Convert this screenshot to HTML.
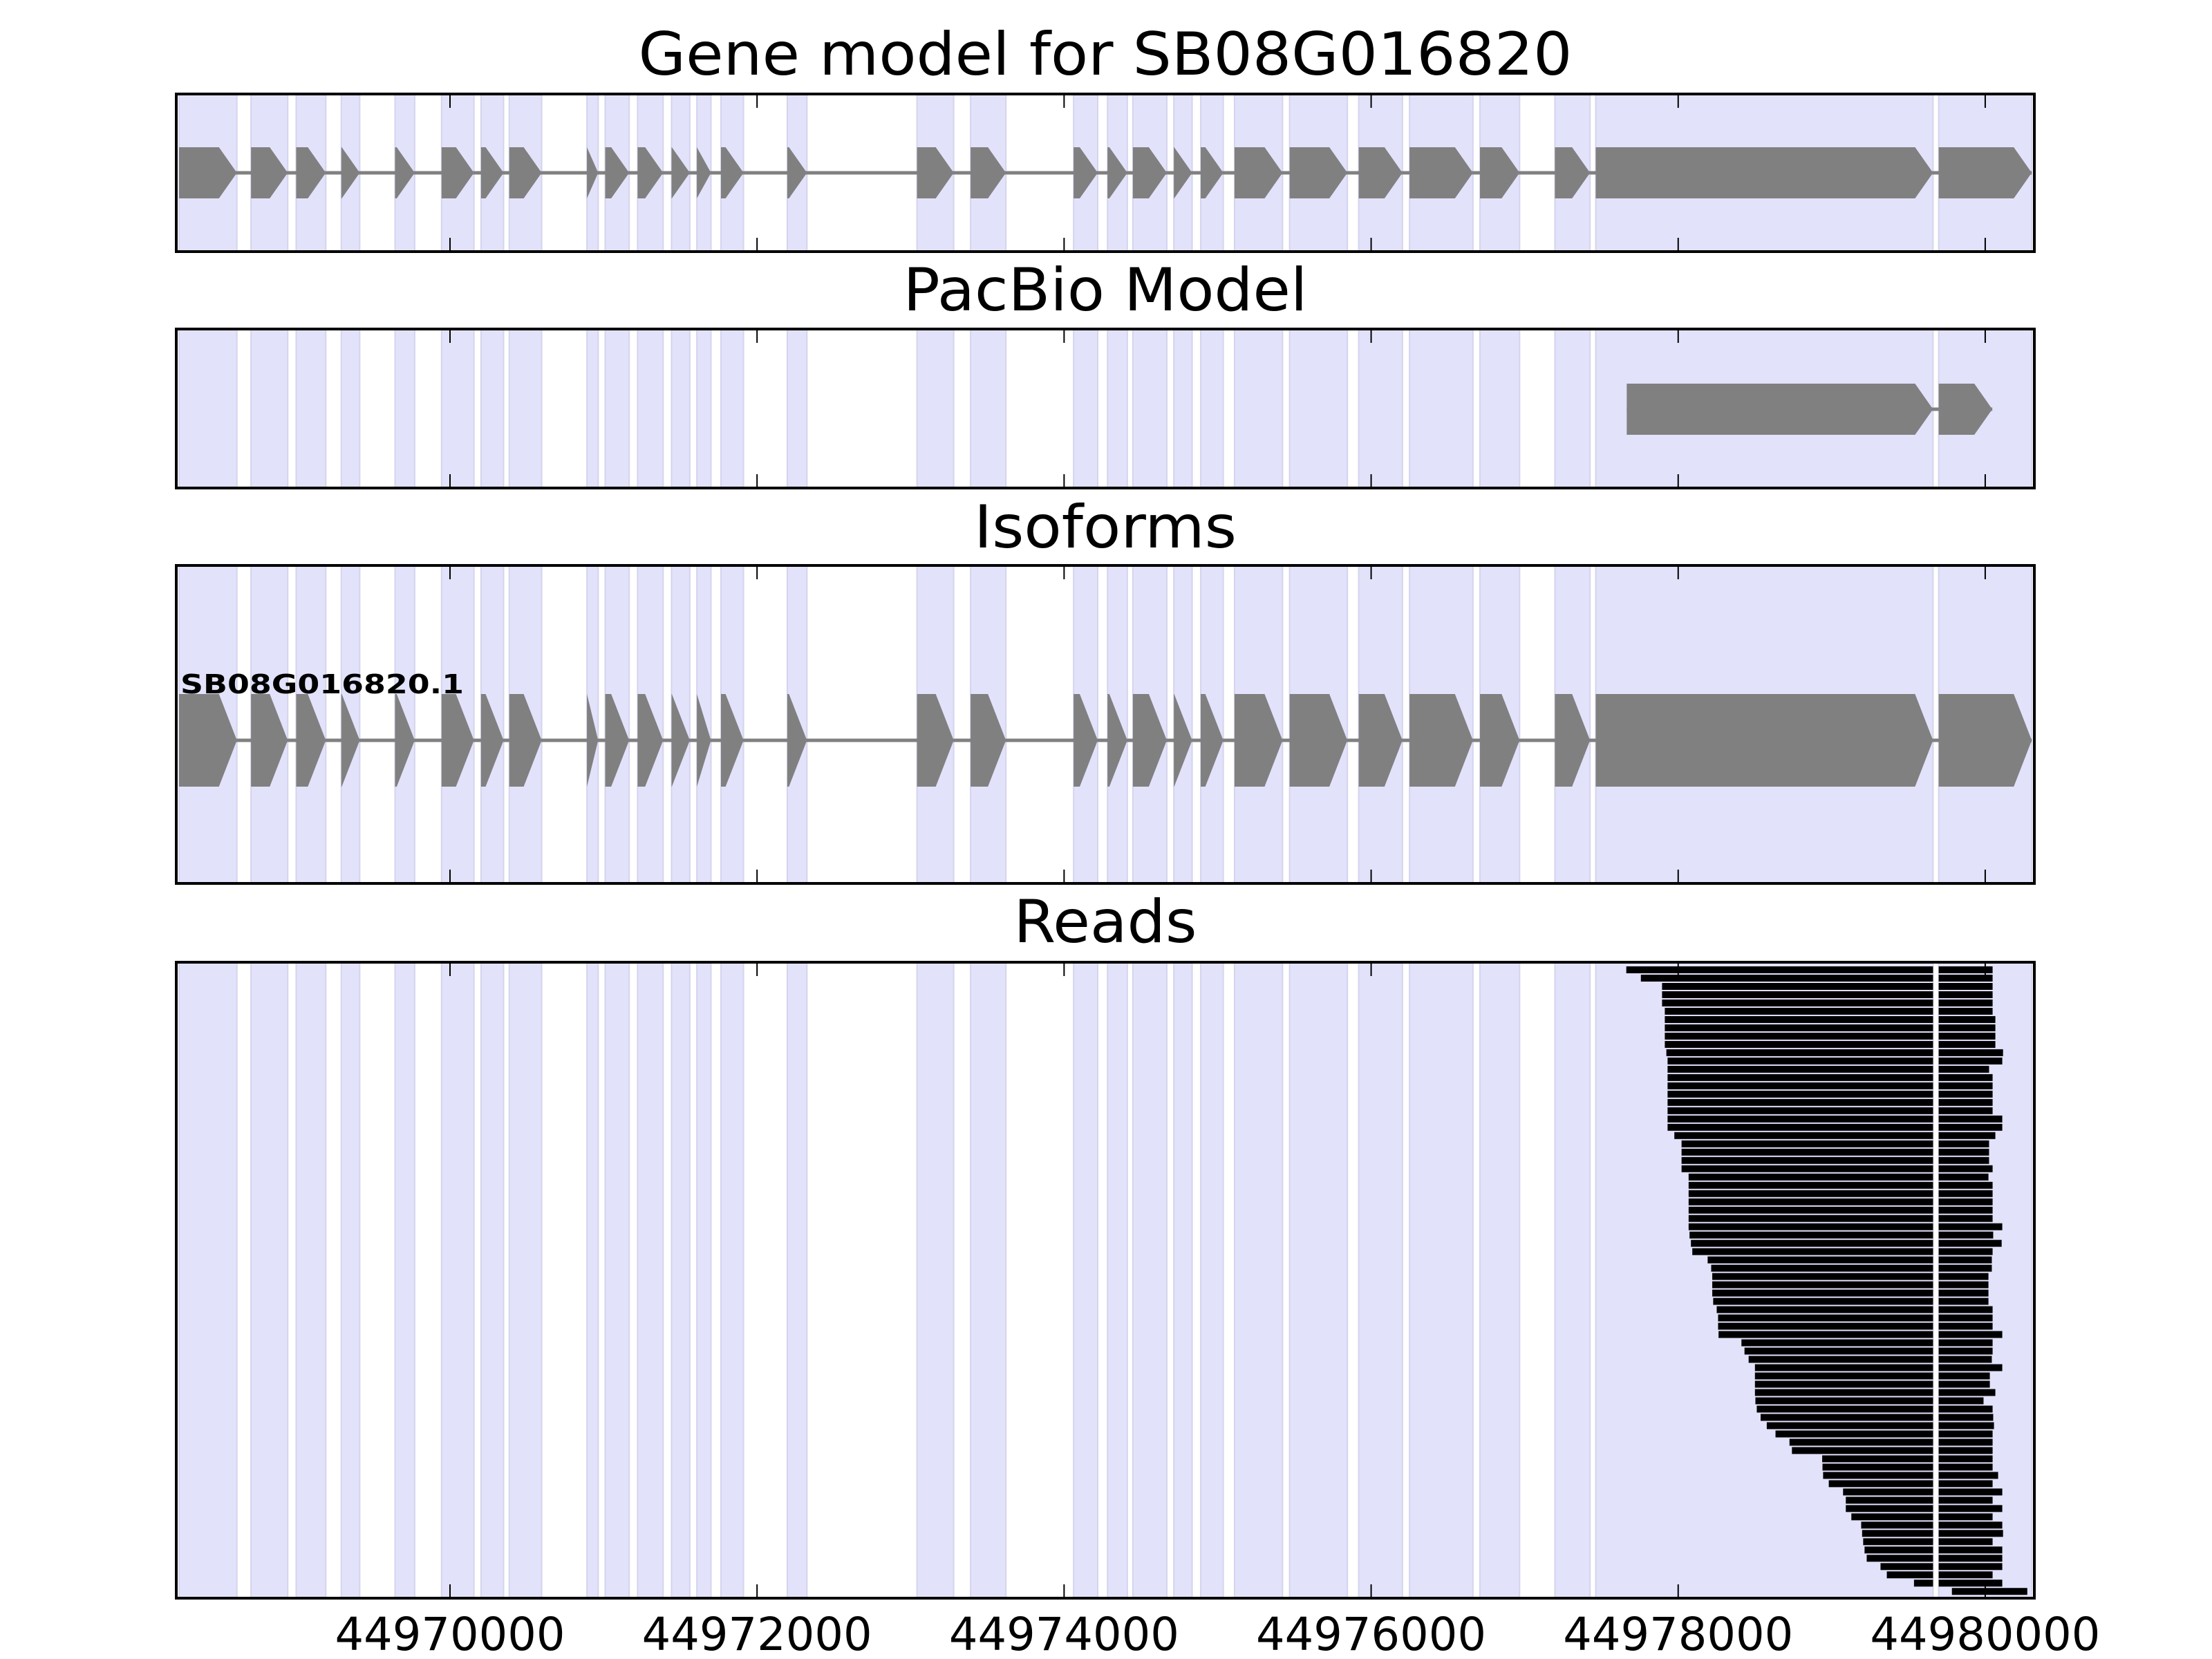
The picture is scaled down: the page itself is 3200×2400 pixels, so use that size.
<!DOCTYPE html>
<html><head><meta charset="utf-8">
<style>
html,body{margin:0;padding:0;background:#fff;}
svg{display:block;font-family:"DejaVu Sans","Liberation Sans",sans-serif;}
</style></head>
<body>
<svg id="chart" width="3200" height="2400" viewBox="0 0 3200 2400" xmlns="http://www.w3.org/2000/svg"></svg>
<script>
// ---- data ----
const exonStarts = [44968235,44968704,44968998,44969292,44969642,44969945,44970202,44970386,44970892,44971011,44971222,44971443,44971608,44971765,44972197,44973042,44973391,44974062,44974283,44974448,44974715,44974890,44975110,44975469,44975919,44976250,44976709,44977197,44977463,44979697];
const exonEnds   = [44968612,44968943,44969191,44969412,44969770,44970156,44970349,44970597,44970965,44971167,44971388,44971562,44971700,44971912,44972325,44973281,44973621,44974219,44974412,44974669,44974834,44975037,44975423,44975845,44976204,44976663,44976967,44977426,44979660,44980303];
const pacbioStarts = [44977665,44979697];
const pacbioEnds   = [44979660,44980046];
const readStarts = [44977662,44977757,44977895,44977895,44977895,44977913,44977913,44977913,44977913,44977913,44977923,44977931,44977931,44977931,44977931,44977931,44977931,44977931,44977931,44977931,44977975,44978022,44978022,44978022,44978022,44978068,44978068,44978068,44978068,44978068,44978068,44978068,44978074,44978083,44978092,44978192,44978215,44978222,44978222,44978222,44978228,44978251,44978260,44978260,44978263,44978412,44978432,44978459,44978500,44978500,44978500,44978500,44978503,44978512,44978537,44978577,44978634,44978725,44978741,44978938,44978940,44978944,44978981,44979074,44979092,44979092,44979128,44979192,44979198,44979205,44979214,44979228,44979318,44979359,44979536,44979783];
const readEnds = [44980048,44980048,44980048,44980048,44980048,44980048,44980066,44980066,44980066,44980066,44980116,44980111,44980025,44980048,44980048,44980048,44980048,44980048,44980111,44980111,44980066,44980025,44980025,44980025,44980048,44980021,44980048,44980048,44980048,44980048,44980048,44980111,44980052,44980107,44980048,44980043,44980043,44980021,44980021,44980021,44980021,44980048,44980048,44980048,44980111,44980048,44980048,44980043,44980111,44980030,44980030,44980066,44979989,44980048,44980052,44980057,44980048,44980048,44980048,44980048,44980048,44980084,44980048,44980111,44980048,44980111,44980048,44980111,44980116,44980048,44980111,44980111,44980111,44980048,44980111,44980274];
const tickValues = [44970000,44972000,44974000,44976000,44978000,44980000];
const tickLabels = ["44970000","44972000","44974000","44976000","44978000","44980000"];
const intronStart = 44979660, intronEnd = 44979697;

// ---- layout ----
const NS = "http://www.w3.org/2000/svg";
const svg = document.getElementById('chart');
const X0 = 255, X1 = 2943, XMIN = 44968217, XMAX = 44980320;
function xs(v){ return X0 + (v - XMIN) * (X1 - X0) / (XMAX - XMIN); }
function mk(tag, attrs, parent){
  const e = document.createElementNS(NS, tag);
  for (const k in attrs) e.setAttribute(k, attrs[k]);
  (parent || svg).appendChild(e);
  return e;
}
const panels = [
  {name:'gene-model-panel', top:136, bot:364, title:'Gene model for SB08G016820', tb:108, fs:86, tw:1351},
  {name:'pacbio-panel', top:476, bot:706, title:'PacBio Model', tb:449, fs:86, tw:585},
  {name:'isoforms-panel', top:818, bot:1278, title:'Isoforms', tb:792, fs:86, tw:380},
  {name:'reads-panel', top:1392, bot:2312, title:'Reads', tb:1363, fs:86, tw:265}
];

function arrows(starts, ends, cy, h, g, nm){
  // intron line
  const ln = mk('line', {x1:xs(starts[0]), x2:xs(ends[ends.length-1]), y1:cy, y2:cy, stroke:'#808080','stroke-width':5}, g);
  
  
  for (let i=0;i<starts.length;i++){
    const a = xs(starts[i]), b = xs(ends[i]);
    const head = Math.min(26, b-a);
    const pts = [[a,cy-h/2],[b-head,cy-h/2],[b,cy],[b-head,cy+h/2],[a,cy+h/2]].map(p=>p.join(',')).join(' ');
    const p = mk('polygon', {points:pts, fill:'#808080'}, g);
    
    
  }
}

panels.forEach((P, pi) => {
  const g = mk('g', {});
  
  
  const cp = mk('clipPath', {id:'cp'+pi}, g);
  mk('rect', {x:X0, y:P.top, width:X1-X0, height:P.bot-P.top}, cp);
  const inner = mk('g', {'clip-path':'url(#cp'+pi+')'}, g);
  // shaded exon bands
  for (let i=0;i<exonStarts.length;i++){
    const a = xs(exonStarts[i]), b = xs(exonEnds[i]);
    const r = mk('rect', {x:a, y:P.top, width:b-a, height:P.bot-P.top, fill:'#e2e2fb', stroke:'#d4d4ee', 'stroke-width':2}, inner);
    
    
  }
  if (pi===0) arrows(exonStarts, exonEnds, 250, 74, inner, 'gene');
  if (pi===1) arrows(pacbioStarts, pacbioEnds, 592, 74, inner, 'pacbio');
  if (pi===2) {
    arrows(exonStarts, exonEnds, 1071, 134, inner, 'isoform');
    const lb = mk('text', {x:261, y:1003, 'font-size':38, 'font-weight':'bold', textLength:410, lengthAdjust:'spacingAndGlyphs'}, g);
    lb.textContent = 'SB08G016820.1';
    
    
  }
  if (pi===3) {
    const ri = mk('g', {}, inner);
    
    
    for (let i=0;i<readStarts.length;i++){
      const y = 1398 + i*11.99;
      const s = readStarts[i], e = readEnds[i];
      if (s < intronStart){
        const r1 = mk('rect', {x:xs(s), y:y, width:xs(Math.min(e,intronStart))-xs(s), height:10, fill:'#000'}, ri);
        
        
      }
      if (e > intronEnd){
        const st = Math.max(s, intronEnd);
        const r2 = mk('rect', {x:xs(st), y:y, width:xs(e)-xs(st), height:10, fill:'#000'}, ri);
        
        
      }
    }
  }
  // ticks
  tickValues.forEach((v, ti) => {
    const x = xs(v);
    const t1 = mk('line', {x1:x, x2:x, y1:P.top, y2:P.top+20, stroke:'#000','stroke-width':2}, g);
    
    
    const t2 = mk('line', {x1:x, x2:x, y1:P.bot, y2:P.bot-20, stroke:'#000','stroke-width':2}, g);
    
    
  });
  // frame
  const fr = mk('rect', {x:X0, y:P.top, width:X1-X0, height:P.bot-P.top, fill:'none', stroke:'#000', 'stroke-width':4}, g);
  
  
  // title
  const tt = mk('text', {x:(X0+X1)/2, y:P.tb, 'font-size':P.fs, 'text-anchor':'middle', textLength:P.tw, lengthAdjust:'spacingAndGlyphs'}, g);
  tt.textContent = P.title;
  
  
});

// x tick labels
tickValues.forEach((v, i) => {
  const t = mk('text', {x:xs(v), y:2387, 'font-size':66, 'text-anchor':'middle', textLength:333, lengthAdjust:'spacingAndGlyphs'});
  t.textContent = tickLabels[i];
  
  
});
</script>
</body></html>
